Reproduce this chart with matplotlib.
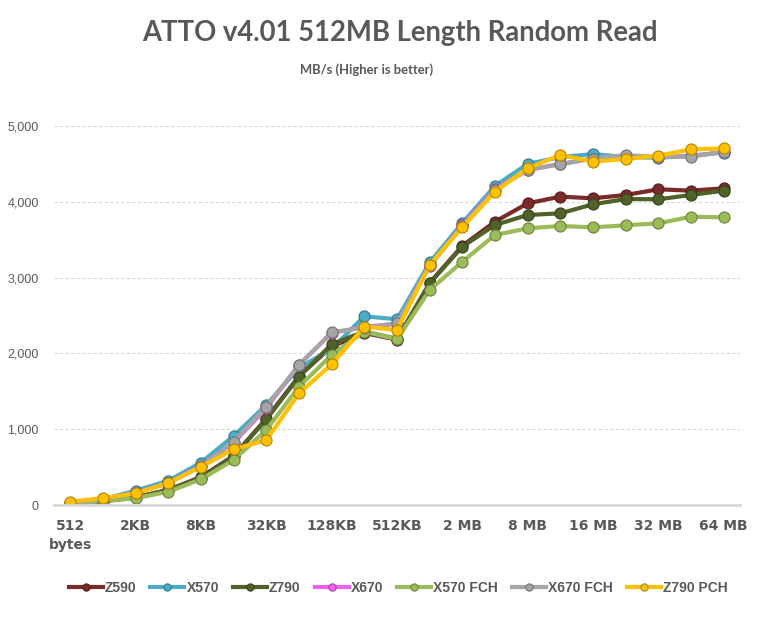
import matplotlib.pyplot as plt
from matplotlib.ticker import FuncFormatter

# block sizes tested by ATTO (21 steps)
sizes = ["512\nbytes", "1KB", "2KB", "4KB", "8KB", "16KB", "32KB", "64KB", "128KB",
         "256KB", "512KB", "1 MB", "2 MB", "4 MB", "8 MB", "12 MB", "16 MB",
         "24 MB", "32 MB", "48 MB", "64 MB"]

# MB/s
z590 = [20, 50, 100, 200, 370, 650, 1140, 1700, 2090, 2270, 2180, 2930, 3420,
        3738, 3980, 4068, 4046, 4090, 4165, 4147, 4178]
x570 = [30, 75, 190, 320, 560, 910, 1320, 1810, 2060, 2490, 2450, 3200, 3720,
        4210, 4500, 4590, 4630, 4590, 4580, 4610, 4650]
z790 = [20, 50, 100, 200, 360, 640, 1130, 1693, 2120, 2290, 2190, 2924, 3408,
        3694, 3826, 3848, 3967, 4037, 4033, 4090, 4147]
x670 = [30, 70, 160, 290, 520, 820, 1280, 1850, 2270, 2350, 2390, 3150, 3690,
        4170, 4420, 4500, 4570, 4600, 4590, 4600, 4660]
x570_fch = [20, 50, 90, 175, 340, 594, 990, 1561, 1979, 2287, 2186, 2836, 3210,
            3562, 3650, 3681, 3663, 3690, 3716, 3803, 3795]
x670_fch = [30, 70, 160, 290, 510, 835, 1297, 1847, 2278, 2340, 2397, 3160, 3680,
            4160, 4420, 4495, 4570, 4617, 4590, 4595, 4660]
z790_pch = [45, 90, 155, 290, 505, 735, 857, 1473, 1856, 2353, 2309, 3166, 3663,
            4133, 4442, 4617, 4530, 4565, 4608, 4692, 4705]

series = [
    ("Z590", z590, "#7b2a2a"),
    ("X570", x570, "#4bacc6"),
    ("Z790", z790, "#4f6228"),
    ("X670", x670, "#f25ff2"),
    ("X570 FCH", x570_fch, "#9bbb59"),
    ("X670 FCH", x670_fch, "#a5a5a5"),
    ("Z790 PCH", z790_pch, "#ffc000"),
]

def darker(c, f=0.7):
    c = c.lstrip("#")
    r, g, b = (int(c[i:i + 2], 16) for i in (0, 2, 4))
    return "#%02x%02x%02x" % (int(r * f), int(g * f), int(b * f))

text_grey = "#595959"

fig = plt.figure(figsize=(7.73, 6.17), dpi=100)
ax = fig.add_axes([54 / 773, 1 - 505 / 617, 686 / 773, 379 / 617])

x = list(range(len(sizes)))
for name, vals, col in series:
    ax.plot(x, vals, color=col, lw=3, marker="o", ms=8,
            markerfacecolor=col, markeredgecolor=darker(col), markeredgewidth=0.8,
            label=name, solid_joinstyle="round")

ax.set_xlim(-0.5, len(sizes) - 0.5)
ax.set_ylim(0, 5000)
ax.set_yticks(range(0, 5001, 1000))
ax.yaxis.set_major_formatter(FuncFormatter(lambda v, p: f"{int(v):,}"))
ax.set_xticks(x[::2])
ax.set_xticklabels(sizes[::2], fontfamily="DejaVu Sans", fontweight="bold",
                   fontsize=10, color=text_grey, linespacing=1.45)
for lab in ax.get_yticklabels():
    lab.set_fontfamily("Liberation Sans")
    lab.set_fontsize(9)
    lab.set_color(text_grey)
ax.tick_params(axis="both", length=0)
ax.tick_params(axis="y", pad=11)
ax.tick_params(axis="x", pad=10)

ax.grid(axis="y", color="#d9d9d9", linestyle=(0, (3, 2)), lw=0.8)
ax.set_axisbelow(True)
for s in ["top", "right", "left"]:
    ax.spines[s].set_visible(False)
ax.spines["bottom"].set_color("#d9d9d9")
ax.spines["bottom"].set_linewidth(2)

fig.text(400 / 773, 1 - 33 / 617, "ATTO v4.01 512MB Length Random Read",
         ha="center", va="center", fontfamily="Lato", fontweight="bold",
         fontsize=19.8, color=text_grey)
fig.text(367 / 773, 1 - 70 / 617, "MB/s (Higher is better)",
         ha="center", va="center", fontfamily="Lato", fontweight="bold",
         fontsize=9.4, color=text_grey)

leg = fig.legend(loc="center", bbox_to_anchor=(398 / 773, 1 - 588 / 617), ncol=7,
                 frameon=False, handlelength=2.45, handletextpad=0.15,
                 columnspacing=1.0, markerscale=0.65,
                 prop={"family": "Liberation Sans", "weight": "bold", "size": 10})
for t in leg.get_texts():
    t.set_color(text_grey)

fig.savefig("out.png", dpi=100)
